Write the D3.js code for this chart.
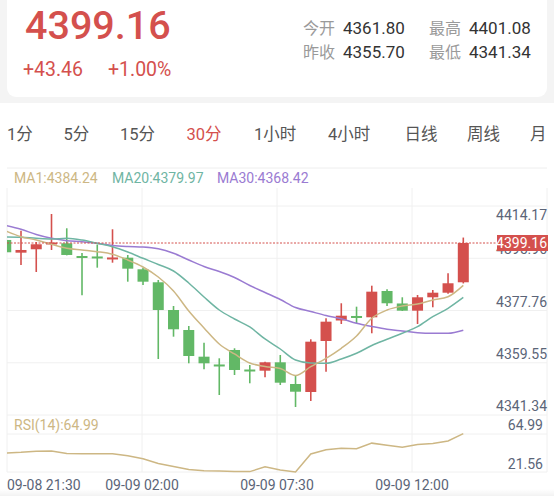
<!DOCTYPE html>
<html><head><meta charset="utf-8">
<script src="https://cdn.jsdelivr.net/npm/d3@7/dist/d3.min.js"></script>
<style>
html,body{margin:0;padding:0;background:#f4f4f4;overflow:hidden;}
svg{display:block;font-family:Roboto,"Noto Sans CJK SC",sans-serif;}
</style>
</head><body>
<svg id="c" width="554" height="496"></svg>
<script>
// ---------- data ----------
const opens  = [4400.23,4395.75,4396.95,4398.64,4399.06,4394.58,4394.41,4393.53,4393.98,4389.89,4385.31,4375.54,4368.49,4359.08,4356.33,4361.44,4354.56,4354.14,4357.10,4349.45,4346.63,4364.61,4371.84,4373.43,4372.97,4382.24,4377.84,4375.30,4380.02,4381.64,4385.31];
const highs  = [4400.60,4403.51,4399.52,4409.39,4404.35,4395.64,4398.64,4404.00,4394.94,4390.46,4386.12,4376.95,4369.90,4364.01,4358.51,4362.04,4356.15,4357.31,4359.68,4352.62,4365.21,4372.62,4377.91,4376.71,4384.11,4382.84,4380.02,4380.83,4382.60,4388.48,4401.08];
const lows   = [4395.50,4391.41,4388.94,4396.70,4394.80,4380.73,4390.46,4392.22,4385.52,4384.36,4358.27,4366.13,4356.75,4354.63,4345.57,4352.62,4349.70,4351.81,4349.10,4341.34,4343.46,4353.79,4370.61,4370.78,4367.33,4376.95,4375.19,4370.61,4376.50,4381.30,4384.90];
const closes = [4395.89,4396.70,4398.71,4399.34,4394.94,4394.23,4394.06,4394.06,4390.11,4385.52,4375.54,4368.74,4359.32,4356.75,4355.80,4354.39,4354.21,4357.10,4349.91,4346.73,4364.37,4371.42,4373.53,4373.07,4382.00,4377.91,4375.30,4380.02,4381.64,4384.96,4399.16];
const ma1  = [4403.40,4401.39,4400.22,4398.71,4397.30,4396.70,4396.10,4395.18,4393.17,4390.70,4387.18,4382.24,4375.19,4369.20,4363.55,4360.03,4356.85,4355.62,4354.92,4352.45,4355.55,4358.51,4362.04,4366.37,4372.62,4375.54,4376.95,4377.66,4379.07,4380.23,4384.24];
const ma20 = [4401.28,4401.18,4400.82,4400.58,4400.82,4400.22,4399.06,4397.86,4395.99,4393.77,4391.59,4389.29,4385.06,4380.13,4375.54,4372.37,4369.55,4365.32,4361.79,4357.91,4356.85,4356.75,4358.26,4360.27,4363.02,4365.21,4367.33,4369.65,4373.18,4376.14,4379.97];
const ma30 = [4405.34,4404.00,4402.16,4400.82,4399.98,4399.62,4399.06,4398.28,4397.93,4397.76,4397.12,4395.53,4393.17,4390.88,4389.12,4387.00,4384.18,4381.71,4379.24,4376.42,4375.01,4373.60,4372.44,4370.85,4369.72,4368.74,4368.14,4367.54,4367.33,4367.33,4368.42];
const rsi  = [43.0,43.8,45.1,45.4,42.6,42.3,42.3,42.3,39.9,36.6,31.1,27.9,24.3,23.0,22.7,22.2,22.0,27.4,23.8,21.56,41.9,46.7,48.3,47.8,54.2,51.9,49.5,52.7,53.8,56.6,64.99];
const priceTicks = ["4414.17","4395.96","4377.76","4359.55","4341.34"];
const rsiTicks = ["64.99","21.56"];
const timeLabels = ["09-08 21:30","09-09 02:00","09-09 07:30","09-09 12:00"];
const tabs = ["1分","5分","15分","30分","1小时","4小时","日线","周线","月"];
const lastPrice = 4399.16;

// ---------- colors ----------
const RED="#d4504d", GREEN="#62b866", TAN="#cdb784", TEAL="#6fb5a3", PURPLE="#9a7bd2", AXIS="#5b6578";

const svg = d3.select("#c");

// header card
svg.append("rect").attr("x",7).attr("y",-20).attr("width",540).attr("height",117).attr("rx",9).attr("fill","#fff");
svg.append("text").attr("x",25).attr("y",39).attr("font-size",39.5).attr("font-weight",500).attr("fill",RED).text("4399.16");
svg.append("text").attr("x",23).attr("y",76).attr("font-size",19.5).attr("fill",RED).text("+43.46");
svg.append("text").attr("x",108).attr("y",76).attr("font-size",19.5).attr("fill",RED).text("+1.00%");
const stats=[["今开","4361.80",303,34],["最高","4401.08",429,34],["昨收","4355.70",303,58],["最低","4341.34",429,58]];
stats.forEach(s=>{
  svg.append("text").attr("x",s[2]).attr("y",s[3]).attr("font-size",16).attr("fill","#9a9a9a").attr("font-family","'Noto Sans CJK SC',sans-serif").text(s[0]);
  svg.append("text").attr("x",s[2]+40).attr("y",s[3]).attr("font-size",17).attr("fill","#333").text(s[1]);
});

// lower white panel
svg.append("rect").attr("x",0).attr("y",103).attr("width",554).attr("height",393).attr("fill","#fff");

// tabs
const tabX=[7,63.5,120,186.5,254,328,404.5,467,530];
tabs.forEach((t,i)=>{
  svg.append("text").attr("x",tabX[i]).attr("y",140).attr("font-size",16.5)
    .attr("fill", t==="30分"?RED:"#555").text(t);
});
svg.append("line").attr("x1",7).attr("x2",547).attr("y1",168).attr("y2",168).attr("stroke","#eeeeee");

// legend
[["MA1:4384.24",14,TAN],["MA20:4379.97",112,TEAL],["MA30:4368.42",217,PURPLE]].forEach(l=>{
  svg.append("text").attr("x",l[1]).attr("y",183).attr("font-size",14).attr("fill",l[2]).text(l[0]);
});

// grid
const L=7,R=547;
const gx = d3.scaleLinear().domain([0,4]).range([L,R]);
const gy = d3.scaleLinear().domain([0,4]).range([206,415]);
const grid = svg.append("g").attr("stroke","#f0f0f0").attr("stroke-width",1);
d3.range(5).forEach(k=>{
  grid.append("line").attr("x1",gx(k)).attr("x2",gx(k)).attr("y1",188).attr("y2",472);
  grid.append("line").attr("x1",L).attr("x2",R).attr("y1",gy(k)).attr("y2",gy(k));
});
[434,472].forEach(y=>grid.append("line").attr("x1",L).attr("x2",R).attr("y1",y).attr("y2",y));

// scales
const x = d3.scaleLinear().domain([0,30]).range([5.75,463.3]);
const y = d3.scaleLinear().domain([4341.34,4399.16]).range([407,243]);
const yr = d3.scaleLinear().domain([21.56,64.99]).range([472,433.6]);

svg.append("clipPath").attr("id","main").append("rect").attr("x",L).attr("y",188).attr("width",R-L).attr("height",227);
svg.append("clipPath").attr("id","rsi").append("rect").attr("x",L).attr("y",416).attr("width",R-L).attr("height",58);

const main = svg.append("g").attr("clip-path","url(#main)");
const idx = d3.range(opens.length);
const bw = 11;
const cg = main.selectAll("g.c").data(idx).join("g")
  .attr("fill", i=>closes[i]>=opens[i]?RED:GREEN)
  .attr("stroke", i=>closes[i]>=opens[i]?RED:GREEN);
cg.append("line").attr("x1",i=>x(i)).attr("x2",i=>x(i))
  .attr("y1",i=>y(highs[i])).attr("y2",i=>y(lows[i])).attr("stroke-width",1.6);
cg.append("rect").attr("x",i=>x(i)-bw/2).attr("width",bw)
  .attr("y",i=>Math.min(y(opens[i]),y(closes[i])))
  .attr("height",i=>Math.max(2,Math.abs(y(opens[i])-y(closes[i]))))
  .attr("stroke","none");

const line = arr => d3.line().x((d,i)=>x(i)).y(d=>y(d)).curve(d3.curveMonotoneX)(arr);
main.append("path").attr("d",line(ma30)).attr("fill","none").attr("stroke",PURPLE).attr("stroke-width",1.5);
main.append("path").attr("d",line(ma20)).attr("fill","none").attr("stroke",TEAL).attr("stroke-width",1.5);
main.append("path").attr("d",line(ma1)).attr("fill","none").attr("stroke",TAN).attr("stroke-width",1.5);

// price labels
const lab = svg.append("g").attr("font-size",14).attr("fill",AXIS).attr("text-anchor","end");
priceTicks.forEach((t,k)=>{
  lab.append("text").attr("x",R).attr("y", k===0? gy(k)+14 : gy(k)-4).text(t);
});

// last price line + tag
svg.append("line").attr("x1",L).attr("x2",497).attr("y1",y(lastPrice)).attr("y2",y(lastPrice))
  .attr("stroke",RED).attr("stroke-width",1).attr("stroke-dasharray","2,1.5");
svg.append("rect").attr("x",497).attr("y",y(lastPrice)-8).attr("width",51).attr("height",16).attr("fill",RED);
svg.append("text").attr("x",R).attr("y",y(lastPrice)+5).attr("text-anchor","end").attr("font-size",14)
  .attr("fill","#fff").text(lastPrice.toFixed(2));

// RSI
svg.append("text").attr("x",14).attr("y",430).attr("font-size",14).attr("fill",TAN).text("RSI(14):64.99");
const rsiLine = d3.line().x((d,i)=>x(i)).y(d=>yr(d));
svg.append("g").attr("clip-path","url(#rsi)").append("path").attr("d",rsiLine(rsi))
  .attr("fill","none").attr("stroke",TAN).attr("stroke-width",1.5);
lab.append("text").attr("x",R-4).attr("y",430).text(rsiTicks[0]);
lab.append("text").attr("x",R-4).attr("y",468.5).text(rsiTicks[1]);

// time labels
timeLabels.forEach((t,k)=>{
  svg.append("text").attr("x", k===0? L : gx(k)).attr("y",490)
    .attr("text-anchor", k===0?"start":"middle").attr("font-size",14).attr("fill",AXIS).text(t);
});

// bottom shade
const defs = svg.append("defs");
const gr = defs.append("linearGradient").attr("id","sh").attr("x1",0).attr("y1",0).attr("x2",0).attr("y2",1);
gr.append("stop").attr("offset",0).attr("stop-color","#000").attr("stop-opacity",0);
gr.append("stop").attr("offset",1).attr("stop-color","#000").attr("stop-opacity",0.05);
svg.append("rect").attr("x",0).attr("y",489).attr("width",554).attr("height",7).attr("fill","url(#sh)");
</script>
</body></html>
